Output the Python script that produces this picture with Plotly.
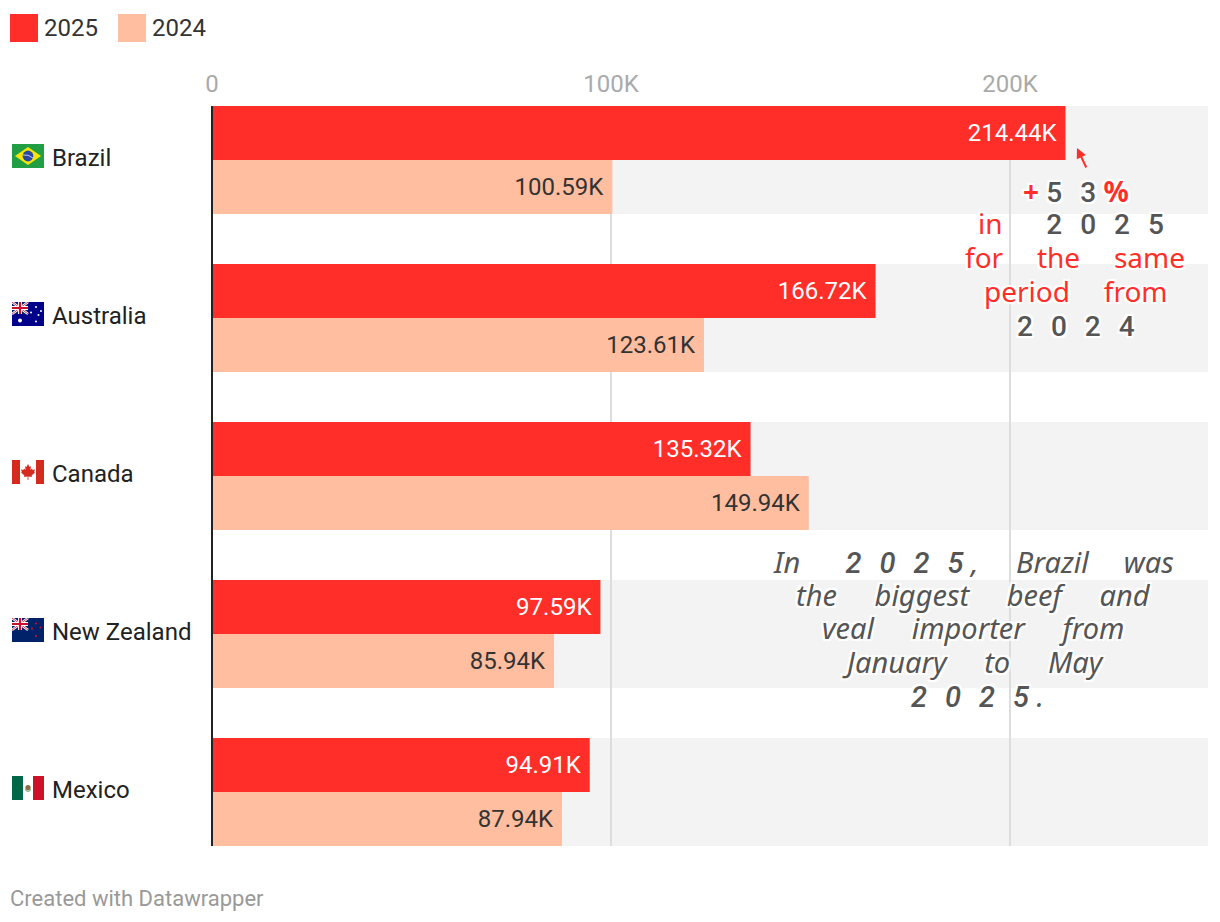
import base64
import plotly.graph_objects as go

countries = ['Brazil', 'Australia', 'Canada', 'New Zealand', 'Mexico']
values_2025 = [214440, 166720, 135320, 97590, 94910]
values_2024 = [100590, 123610, 149940, 85940, 87940]
tick_values = [0, 100000, 200000]
tick_labels = ['0', '100K', '200K']

RED = '#ff2e28'
PEACH = '#ffbe9f'
BAND = '#f3f3f3'
GREY = '#555555'
W, H = 1220, 922
L, R, T, B = 212, 1208, 106, 846
HALO = '-2px -2px 1px #fff, 2px -2px 1px #fff, -2px 2px 1px #fff, 2px 2px 1px #fff, 0 0 3px #fff'


def px(x):
    return (x - L) / (R - L)


def py(y):
    return 1 - (y - T) / (B - T)


def label(v):
    return f'{v / 1000:.2f}K\u00a0'


def flag_uri(body):
    svg = f'<svg xmlns="http://www.w3.org/2000/svg" width="96" height="72" viewBox="0 0 32 24">{body}</svg>'
    return 'data:image/svg+xml;base64,' + base64.b64encode(svg.encode()).decode()


def stars(points, color, r=0.9):
    return ''.join(f'<circle cx="{a}" cy="{b}" r="{r}" fill="{color}"/>' for a, b in points)


def union_jack():
    return ('<rect width="16" height="12" fill="#012169"/>'
            '<path d="M0 0L16 12M16 0L0 12" stroke="#fff" stroke-width="2.4"/>'
            '<path d="M0 0L16 12M16 0L0 12" stroke="#c8102e" stroke-width="0.8"/>'
            '<path d="M8 0V12M0 6H16" stroke="#fff" stroke-width="4"/>'
            '<path d="M8 0V12M0 6H16" stroke="#c8102e" stroke-width="2.2"/>')


flags = [
    '<rect width="32" height="24" fill="#229e45"/><path d="M16 3L29 12L16 21L3 12Z" fill="#f8e509"/>'
    '<circle cx="16" cy="12" r="5.4" fill="#2b49a3"/><path d="M11 11Q16 10 21 14" stroke="#fff" stroke-width="0.7" fill="none"/>',
    '<rect width="32" height="24" fill="#00008b"/>' + union_jack()
    + stars([(8, 18.5)], '#fff', 2) + stars([(24, 19.5), (24, 5), (19, 10.5), (29, 9), (26.5, 13)], '#fff', 1),
    '<rect width="32" height="24" fill="#fff"/><rect width="8" height="24" fill="#d52b1e"/><rect x="24" width="8" height="24" fill="#d52b1e"/>'
    '<path d="M16 4L17.5 7L19 6.3L18.4 10L20 8.6L20.6 10L23 9.6L22.2 12L23 12.6L19.6 15.4L20 17L16.4 16.6V20H15.6V16.6L12 17L12.4 15.4L9 12.6L9.8 12L9 9.6L11.4 10L12 8.6L13.6 10L13 6.3L14.5 7Z" fill="#d52b1e"/>',
    '<rect width="32" height="24" fill="#012169"/>' + union_jack()
    + stars([(24, 5.5), (24, 18), (20, 10.5), (28.5, 9.5)], '#c8102e', 1.1),
    '<rect width="32" height="24" fill="#fff"/><rect width="11" height="24" fill="#006847"/><rect x="21" width="11" height="24" fill="#ce1126"/>'
    '<circle cx="16" cy="11.5" r="2.6" fill="#8c6b3f"/><path d="M13 13.5Q16 17 19 13.5" stroke="#3f8f4f" stroke-width="1" fill="none"/>',
]

traces = [
    go.Bar(y=countries, x=values_2025, name='2025', orientation='h', marker=dict(color=RED, line=dict(width=0)),
           text=[label(v) for v in values_2025], textposition='inside', insidetextanchor='end',
           textangle=0, constraintext='none', insidetextfont=dict(color='#ffffff', size=24), hoverinfo='skip'),
    go.Bar(y=countries, x=values_2024, name='2024', orientation='h', marker=dict(color=PEACH, line=dict(width=0)),
           text=[label(v) for v in values_2024], textposition='inside', insidetextanchor='end',
           textangle=0, constraintext='none', insidetextfont=dict(color='#333333', size=24), hoverinfo='skip'),
    # empty trace so the grid axis gets drawn
    go.Scatter(x=tick_values, y=countries[:3], mode='none', xaxis='x2', showlegend=False, hoverinfo='skip'),
]

half = 54 / 158
shapes = [dict(type='rect', xref='paper', yref='y', x0=0, x1=1, y0=i - half, y1=i + half,
               fillcolor=BAND, line=dict(width=0), layer='below') for i in range(len(countries))]
# axis line sits over the bars, paper refs so it does not get clipped
shapes.append(dict(type='line', xref='paper', yref='paper', x0=0, x1=0, y0=0, y1=1, line=dict(color='#222222', width=2)))
annotations = []
images = []

# country names and flags sit left of the axis
for i, name in enumerate(countries):
    annotations.append(dict(text=name, xref='paper', yref='y', x=px(50), y=i, xanchor='left', yanchor='middle',
                            yshift=2, showarrow=False, font=dict(size=24, color='#222222')))
    images.append(dict(source=flag_uri(flags[i]), xref='paper', yref='y', x=px(12), y=i - 4 / 158,
                       sizex=32 / (R - L), sizey=24 / 158, xanchor='left', yanchor='middle',
                       sizing='stretch', layer='above'))

# legend
for x0, color, year in [(10, RED, '2025'), (118, PEACH, '2024')]:
    shapes.append(dict(type='rect', xref='paper', yref='paper', x0=px(x0), x1=px(x0 + 28), y0=py(14), y1=py(42),
                       fillcolor=color, line=dict(width=0)))
    annotations.append(dict(text=year, xref='paper', yref='paper', x=px(x0 + 32), y=py(28), xanchor='left',
                            yanchor='middle', showarrow=False, font=dict(size=24, color='#333333')))

annotations.append(dict(text='Created with Datawrapper', xref='paper', yref='paper', x=px(8), y=py(898),
                        xanchor='left', yanchor='middle', showarrow=False, font=dict(size=22, color='#999999')))

# arrow to the Brazil bar
annotations.append(dict(text='', xref='paper', yref='paper', x=px(1077), y=py(148), ax=10, ay=21, showarrow=True,
                        arrowcolor=RED, arrowwidth=2, arrowhead=2, arrowsize=1))


def digits(s):
    # last digit carries no spacing so punctuation can sit close to it
    style = f'color:{GREY};font-family:Roboto;font-weight:500'
    return (f'<span style="{style};letter-spacing:18px">{s[:-1]}</span>'
            f'<span style="{style}">{s[-1]}</span>')


def red(s):
    return f'<span style="color:{RED}">{s}</span>'


def bold(s):
    return f'<span style="font-weight:700;color:{RED}">{s}</span>'


nb = '\u00a0'
sp = nb * 5
sp_red = nb * 4 + '\u2009'
red_lines = [
    (bold('+') + nb + digits('53') + nb + bold('%'), 191, 1076),
    (red('in') + sp + nb + digits('2025'), 223, 1071),
    (red('for') + sp_red + red('the') + sp_red + red('same'), 257, 1075),
    (red('period') + sp_red + red('from'), 291, 1076),
    (digits('2024'), 326, 1076),
]
for text, y, xc in red_lines:
    annotations.append(dict(text=text, xref='paper', yref='paper', x=px(xc), y=py(y), xanchor='center',
                            yanchor='middle', showarrow=False,
                            font=dict(family='Noto Sans', size=28, color=RED, shadow=HALO)))

italic_lines = [
    ('In' + sp + nb + digits('2025') + nb + ',' + sp + 'Brazil' + sp_red + 'was', 561, 973),
    ('the' + sp + 'biggest' + sp + 'beef' + sp + 'and', 594, 973),
    ('veal' + sp + 'importer' + sp + 'from', 627, 973),
    ('January' + sp + 'to' + sp + 'May', 661, 973),
    (digits('2025') + nb + '.', 695, 977),
]
for text, y, xc in italic_lines:
    annotations.append(dict(text=f'<i>{text}</i>', xref='paper', yref='paper', x=px(xc), y=py(y), xanchor='center',
                            yanchor='middle', showarrow=False,
                            font=dict(family='Noto Sans', size=29, color=GREY, shadow=HALO)))

layout = go.Layout(
    width=W, height=H, barmode='group', bargap=50 / 158, bargroupgap=0, showlegend=False,
    font=dict(family='Roboto'), plot_bgcolor='#ffffff', paper_bgcolor='#ffffff',
    margin=dict(l=L, r=W - R, t=T, b=H - B, pad=0),
    xaxis=dict(side='top', range=[0, (R - L) / 398 * 100000], showticklabels=False, ticks='', showgrid=False,
               zeroline=False, showline=False),
    xaxis2=dict(overlaying='x', side='top', range=[0, (R - L) / 399 * 100000], tickvals=tick_values,
                ticktext=tick_labels, tickfont=dict(size=24, color='#aaaaaa'), ticks='', showgrid=True,
                gridcolor='#dddddd', gridwidth=2, zeroline=False, ticklabelstandoff=8, showline=False),
    yaxis=dict(type='category', categoryorder='array', categoryarray=countries,
               range=[len(countries) - 1 + half, -half], showticklabels=False, ticks='', showgrid=False, zeroline=False),
    shapes=shapes, annotations=annotations, images=images,
)

fig = go.Figure(data=traces, layout=layout)
fig.write_html('out.html', post_script="document.body.style.margin='0';", config=dict(displayModeBar=False))
